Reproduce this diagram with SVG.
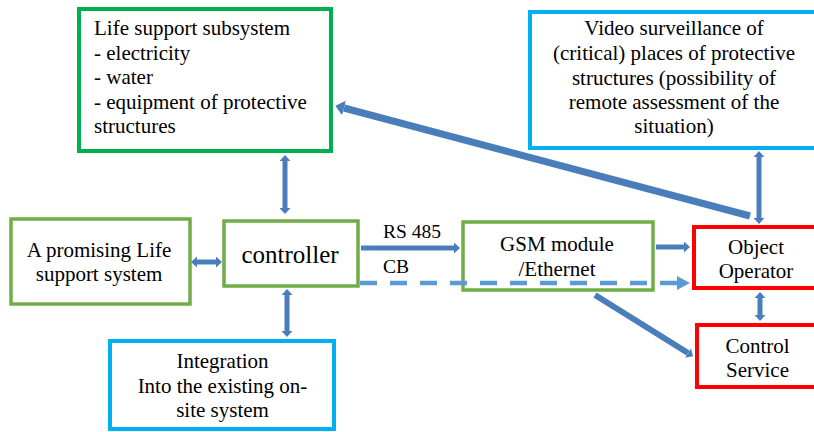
<svg xmlns="http://www.w3.org/2000/svg" width="814" height="432" viewBox="0 0 814 432" font-family="'Liberation Serif', 'DejaVu Serif', serif">
<style>
  .box { fill: #FFFFFF; }
  .g1 { stroke: #00B050; stroke-width: 4; }
  .g2 { stroke: #70AD47; stroke-width: 3.5; }
  .bl { stroke: #00B0F0; stroke-width: 4; }
  .rd { stroke: #FF0000; stroke-width: 4; }
  text { font-family: 'Liberation Serif', 'DejaVu Serif', serif; font-size: 21px; fill: #000000; }
  .c { text-anchor: middle; }
  .conn { stroke: #4A7EBB; fill: none; }
  .dash { stroke: #5B9BD5; stroke-width: 4.5; fill: none; stroke-dasharray: 17 13; }
</style>
<defs>
  <marker id="ah" markerUnits="userSpaceOnUse" markerWidth="6" markerHeight="11" viewBox="0 0 6 11" refX="0" refY="5.5" orient="auto-start-reverse">
    <path d="M0,0 L6,5.5 L0,11 z" fill="#4A7EBB"/>
  </marker>
  <marker id="ahb" markerUnits="userSpaceOnUse" markerWidth="9" markerHeight="15" viewBox="0 0 9 15" refX="0" refY="7.5" orient="auto-start-reverse">
    <path d="M0,0 L9,7.5 L0,15 z" fill="#4A7EBB"/>
  </marker>
  <marker id="ahd" markerUnits="userSpaceOnUse" markerWidth="13" markerHeight="14" viewBox="0 0 13 14" refX="0" refY="7" orient="auto">
    <path d="M0,0 L13,7 L0,14 z" fill="#5B9BD5"/>
  </marker>
</defs>

<g id="life-support">
  <rect class="box g1" x="79" y="9" width="252" height="142"/>
  <text x="94" y="35">Life support subsystem</text>
  <text x="94" y="59.5">- electricity</text>
  <text x="94" y="84">- water</text>
  <text x="94" y="108.5">- equipment of protective</text>
  <text x="94" y="133">structures</text>
</g>

<g id="video">
  <rect class="box bl" x="530" y="12" width="290" height="136"/>
  <text class="c" x="674" y="35">Video surveillance of</text>
  <text class="c" x="674" y="60">(critical) places of protective</text>
  <text class="c" x="674" y="84.5">structures (possibility of</text>
  <text class="c" x="674" y="108.5">remote assessment of the</text>
  <text class="c" x="674" y="133">situation)</text>
</g>

<g id="promising">
  <rect class="box g2" x="11" y="219" width="179" height="85"/>
  <text class="c" x="99" y="257">A promising Life</text>
  <text class="c" x="99" y="281">support system</text>
</g>

<g id="controller">
  <rect class="box g2" x="224" y="221" width="134" height="65"/>
  <text class="c" x="290" y="263" style="font-size:25px">controller</text>
</g>

<g id="integration">
  <rect class="box bl" x="110" y="341" width="224" height="88"/>
  <text class="c" x="222.5" y="368">Integration</text>
  <text class="c" x="222.5" y="393">Into the existing on-</text>
  <text class="c" x="222.5" y="417">site system</text>
</g>

<g id="gsm">
  <rect class="box g2" x="463" y="222" width="190" height="68"/>
  <text class="c" x="557" y="251">GSM module</text>
  <text class="c" x="557" y="276">/Ethernet</text>
</g>

<g id="operator">
  <rect class="box rd" x="694" y="227" width="130" height="61"/>
  <text class="c" x="756" y="254">Object</text>
  <text class="c" x="756" y="278">Operator</text>
</g>

<g id="control-service">
  <rect class="box rd" x="697" y="325" width="130" height="62"/>
  <text class="c" x="757.5" y="353">Control</text>
  <text class="c" x="757.5" y="377">Service</text>
</g>

<g id="connectors">
  <line class="conn" stroke-width="5" x1="285" y1="161" x2="285" y2="208" marker-start="url(#ah)" marker-end="url(#ah)"/>
  <line class="conn" stroke-width="5" x1="197" y1="262" x2="216" y2="262" marker-start="url(#ah)" marker-end="url(#ah)"/>
  <line class="conn" stroke-width="5" x1="287" y1="295" x2="287" y2="331" marker-start="url(#ah)" marker-end="url(#ah)"/>
  <line class="conn" stroke-width="5" x1="361" y1="248" x2="454" y2="248" marker-end="url(#ah)"/>
  <line class="dash" x1="360" y1="283" x2="677" y2="283" marker-end="url(#ahd)"/>
  <line class="conn" stroke-width="5" x1="656" y1="247" x2="684" y2="247" marker-end="url(#ah)"/>
  <line class="conn" stroke-width="6" x1="595" y1="295" x2="688" y2="353" marker-end="url(#ah)"/>
  <line class="conn" stroke-width="7" x1="750" y1="216" x2="344" y2="108" marker-end="url(#ahb)"/>
  <line class="conn" stroke-width="5" x1="759" y1="157" x2="759" y2="218" marker-start="url(#ah)" marker-end="url(#ah)"/>
  <line class="conn" stroke-width="5" x1="760" y1="298" x2="760" y2="315" marker-start="url(#ah)" marker-end="url(#ah)"/>
  <text x="383" y="238" style="font-size:19.5px">RS 485</text>
  <text x="383" y="273" style="font-size:19.5px">CB</text>
</g>
</svg>
